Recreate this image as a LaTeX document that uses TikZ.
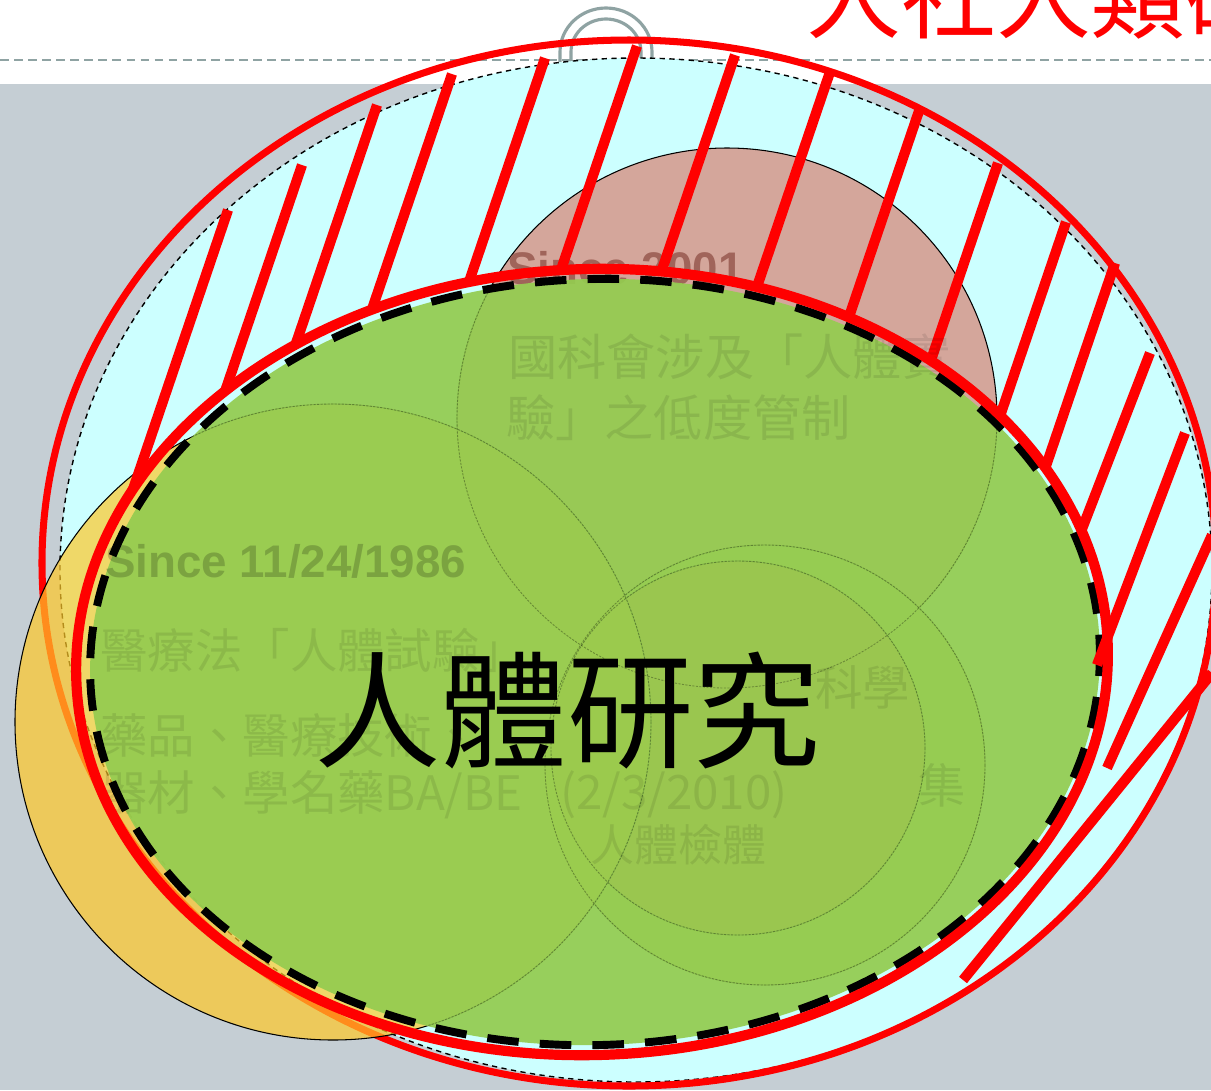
\documentclass[tikz,border=0pt]{standalone}
\usepackage{fontspec}
\newfontfamily\cjk{Noto Sans CJK TC}
\newfontfamily\arialf{Liberation Sans}
\definecolor{bggrey}{RGB}{197,206,212}
\definecolor{ringgrey}{RGB}{143,163,163}
\definecolor{cyanfill}{RGB}{204,255,255}
\definecolor{brownfill}{RGB}{212,166,155}
\definecolor{browntext}{RGB}{160,100,90}
\definecolor{yellowfill}{RGB}{255,200,40}
\definecolor{greenfill}{RGB}{148,204,80}
\definecolor{lrouter}{RGB}{185,215,110}
\definecolor{lrinner}{RGB}{235,120,70}
\begin{document}
\begin{tikzpicture}[x=0.02cm,y=-0.02cm,
  hatch/.style={red,line width=5.8pt},
  thinout/.style={draw=black,line width=0.6pt},
  faintout/.style={draw=black,draw opacity=0.3,line width=0.5pt,dash pattern=on 1.2pt off 0.8pt},
  sincetext/.style={inner sep=0pt,anchor=base west,font=\arialf\bfseries\fontsize{26}{30}\selectfont},
  fainttext/.style={inner sep=0pt,anchor=west,text=black,text opacity=0.09,font=\cjk\fontsize{27}{30}\selectfont}]
\useasboundingbox (0,0) rectangle (1211,1090);
\fill[white] (0,0) rectangle (1211,84);
\fill[bggrey] (0,84) rectangle (1211,1090);
\draw[ringgrey,line width=1.2pt,dash pattern=on 5pt off 3pt] (0,60) -- (1211,60);
% ring
\draw[ringgrey,line width=1.8pt] (560,62) -- (560,52) arc[start angle=180,end angle=360,x radius=46,y radius=44] -- (652,62);
\draw[ringgrey,line width=1.8pt] (571,62) -- (571,52) arc[start angle=180,end angle=360,x radius=35,y radius=33] -- (641,62);
% title
\node[anchor=south west,inner sep=0pt,text=red,font=\cjk\fontsize{54}{60}\selectfont] (title) at (806,40) {人社人類研究};
% outer cyan region
\filldraw[fill=cyanfill,draw=black,line width=0.8pt,dash pattern=on 3pt off 2.5pt] (636,570) ellipse [x radius=576,y radius=512];
\draw[red,line width=4pt] (629,563) ellipse [x radius=587,y radius=523];
% top circle
\filldraw[fill=brownfill,thinout] (727,418) circle [radius=270];
\node[sincetext,text=browntext] (s2001) at (507,284) {Since 2001};
% lower right circles
\filldraw[fill=lrouter,thinout] (765,765) circle [radius=220];
\filldraw[fill=lrinner,thinout] (738,748) circle [radius=187];
% left circle
\filldraw[fill=yellowfill,fill opacity=0.7,thinout] (333,722) circle [radius=318];
% hatch lines
\begin{scope}[rotate around={2:(592,662)},even odd rule]
\clip (-300,-300) rectangle (1500,1400) (592,662) ellipse [x radius=516,y radius=393];
\begin{scope}[rotate around={-2:(592,662)}]
\draw[hatch] (228,210) -- (126,510);
\draw[hatch] (302,165) -- (213.6,425);
\draw[hatch] (377,105) -- (283.5,380);
\draw[hatch] (452,74) -- (358.5,349);
\draw[hatch] (545,58) -- (455,323);
\draw[hatch] (637,46) -- (547,311);
\draw[hatch] (735,55) -- (646.6,315);
\draw[hatch] (830,72) -- (741.6,332);
\draw[hatch] (920,108) -- (833.3,363);
\draw[hatch] (998,163) -- (914.7,408);
\draw[hatch] (1066,222) -- (984.4,462);
\draw[hatch] (1115,263) -- (1030,513);
\draw[hatch] (1150,353) -- (1070,560);
\end{scope}
\end{scope}
% green ellipse
\fill[greenfill,opacity=0.93,rotate around={2:(595,662)}] (595,662) ellipse [x radius=505,y radius=383];
% faint content seen through the green
\begin{scope}
\clip[rotate around={2:(595,662)}] (595,662) ellipse [x radius=505,y radius=383];
\draw[faintout] (727,418) circle [radius=270];
\draw[faintout] (765,765) circle [radius=220];
\draw[faintout] (738,748) circle [radius=187];
\draw[faintout] (333,722) circle [radius=318];
\end{scope}
\node[sincetext,text=black,text opacity=0.2] (s1986) at (105,577) {Since 11/24/1986};
\node[fainttext] (l1) at (100,650) {醫療法「人體試驗」};
\node[fainttext] (l2) at (100,735) {藥品、醫療技術、};
\node[fainttext] (l3) at (100,795) {器材、學名藥BA/BE};
\node[fainttext,font=\cjk\fontsize{28}{30}\selectfont] (t1) at (508,357) {國科會涉及「人體實};
\node[fainttext,font=\cjk\fontsize{28}{30}\selectfont] (t2) at (506,418) {驗」之低度管制};
\node[fainttext] (r0) at (815,687) {科學};
\node[fainttext] (r1) at (560,795) {(2/3/2010)};
\node[fainttext] (r2) at (918,785) {集};
\node[fainttext,font=\cjk\fontsize{25}{30}\selectfont] (r3) at (590,845) {人體檢體};
% outlines
\draw[black,line width=4.5pt,dash pattern=on 18pt off 12pt,rotate around={2:(595,662)}] (595,662) ellipse [x radius=505,y radius=383];
\draw[red,line width=5.8pt,rotate around={2:(592,662)}] (592,662) ellipse [x radius=516,y radius=393];
\draw[hatch] (1185,433) -- (1097,665);
\draw[hatch] (1212,535) -- (1107,768);
\draw[hatch] (1212,673) -- (963,980);
% main label
\node[inner sep=0pt,font=\cjk\fontsize{72}{80}\selectfont] (main) at (567,711) {人體研究};
\end{tikzpicture}
\end{document}
